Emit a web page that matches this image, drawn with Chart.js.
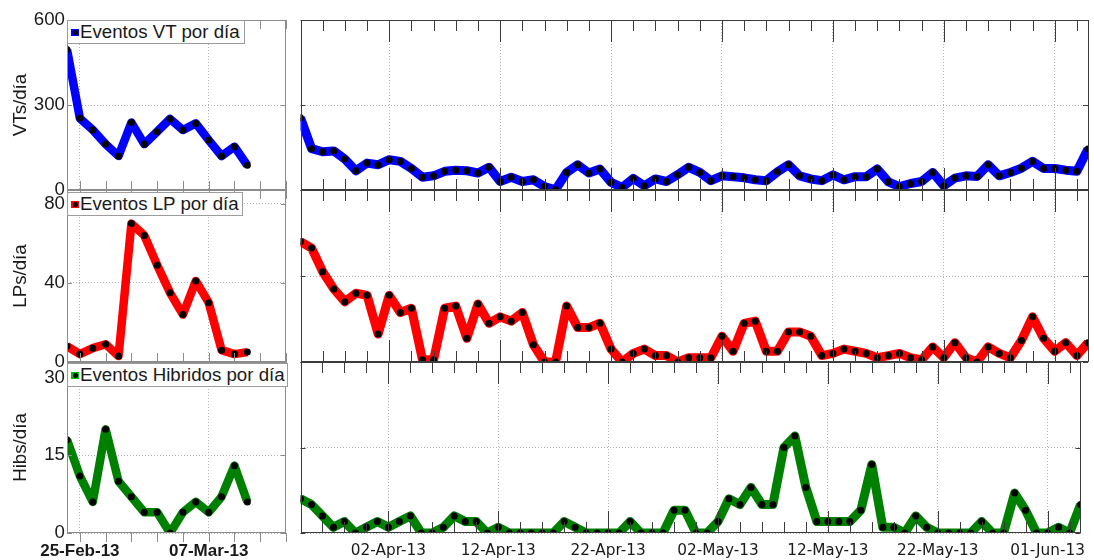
<!DOCTYPE html>
<html>
<head>
<meta charset="utf-8">
<script src="https://cdn.jsdelivr.net/npm/chart.js@4.4.1/dist/chart.umd.min.js"></script>
<style>
  body { margin: 0; background: #fff; }
  #page { position: relative; width: 1094px; height: 560px; overflow: hidden; font-family: "Liberation Sans", Arial, sans-serif; }
  .panel { position: absolute; }
  .legend { position: absolute; box-sizing: border-box; background: #fff; border: 1px solid #9c9c9c;
            display: flex; align-items: center; padding-left: 12px; font-size: 18.7px; line-height: 1;
            color: #1a1a1a; white-space: nowrap; overflow: hidden; }
  .sym { position: absolute; left: 3px; top: 50%; margin-top: -3.5px; width: 8px; height: 7px; }
  .sym::after { content: ''; position: absolute; left: 2px; top: 1px; width: 5px; height: 5px; border-radius: 50%; background: #000; }
</style>
</head>
<body>
<div id="page">
  <div id="charts"></div>
  <div class="legend" style="left:67px;top:20px;width:178px;height:24px"><span class="sym" style="background:#0000ff"></span>Eventos VT por día</div>
  <div class="legend" style="left:67px;top:192px;width:176px;height:24px"><span class="sym" style="background:#ff0000"></span>Eventos LP por día</div>
  <div class="legend" style="left:67px;top:363px;width:221px;height:24px"><span class="sym" style="background:#00c000"></span>Eventos Hibridos por día</div>
</div>
<script>
// ---- data (one value per day) ----
const leftStart = '24-Feb-13';
const rightStart = '25-Mar-13';
const leftRange = ['24-Feb-13', '13-Mar-13'];
const rightRange = ['25-Mar-13', '04-Jun-13'];

const leftTickLabels = ['25-Feb-13', '07-Mar-13'];
const rightTickLabels = ['02-Apr-13', '12-Apr-13', '22-Apr-13', '02-May-13', '12-May-13', '22-May-13', '01-Jun-13'];

const vtTicks = [0, 300, 600];
const lpTicks = [0, 40, 80];
const hibTicks = [0, 15, 30];

const leftVT  = [496, 253, 212, 162, 120, 238, 162, 206, 251, 212, 235, 176, 120, 153, 87];
const leftLP  = [8, 4, 7, 9, 3, 70, 64, 49, 35, 24, 41, 30, 6, 4, 5];
const leftHib = [18, 11, 6, 20, 10, 7, 4, 4, 0, 4, 6, 4, 7, 13, 6];

const rightVT = [
  255, 146, 135, 138, 109, 68, 95, 89, 107, 101,
  76, 45, 50, 66, 70, 68, 60, 80, 30, 45,
  30, 36, 12, 1, 62, 89, 60, 74, 27, 9,
  41, 15, 39, 30, 54, 80, 62, 33, 50, 47,
  43, 36, 33, 64, 89, 50, 39, 33, 53, 36,
  47, 47, 74, 29, 12, 23, 30, 62, 15, 42,
  50, 48, 89, 50, 62, 77, 101, 76, 76, 70,
  66, 145
];
const rightLP = [
  56, 53, 42, 34, 28, 32, 31, 13, 31, 23,
  25, 1, 1, 25, 26, 11, 27, 18, 21, 19,
  23, 8, 0, 0, 26, 16, 16, 18, 6, 0,
  4, 6, 3, 3, 0, 2, 2, 2, 12, 5,
  18, 19, 5, 5, 14, 14, 12, 3, 4, 6,
  5, 4, 2, 3, 4, 2, 1, 7, 2, 9,
  2, 0, 7, 4, 2, 10, 21, 11, 5, 9,
  3, 9
];
const rightHib = [
  6, 5, 3, 1, 2, 0, 1, 2, 1, 2,
  3, 0, 0, 1, 3, 2, 2, 0, 1, 0,
  0, 0, 0, 0, 2, 1, 0, 0, 0, 0,
  2, 0, 0, 0, 4, 4, 0, 0, 2, 6,
  5, 8, 5, 5, 15, 17, 8, 2, 2, 2,
  2, 4, 12, 1, 1, 0, 3, 1, 0, 0,
  0, 0, 2, 0, 0, 7, 4, 0, 0, 1,
  0, 5
];

// ---- date helpers (day of year 2013) ----
const MON = ['Jan', 'Feb', 'Mar', 'Apr', 'May', 'Jun'];
const MLEN = [31, 28, 31, 30, 31, 30];
function dayOf(label) {
  const [dd, mm] = label.split('-');
  let n = +dd;
  for (let i = 0; i < MON.indexOf(mm); i++) n += MLEN[i];
  return n;
}
function labelOf(n) {
  let m = 0;
  while (n > MLEN[m]) { n -= MLEN[m]; m++; }
  return String(n).padStart(2, '0') + '-' + MON[m] + '-13';
}
const daysFrom = (start, vals) => vals.map((_, i) => dayOf(start) + i);

Chart.defaults.font.family = '"Liberation Sans", Arial, sans-serif';
Chart.defaults.color = '#1a1a1a';

// box + inward tick marks, like the original figure
const framePlugin = {
  id: 'frame',
  afterDatasetsDraw(chart, args, o) {
    const { ctx, chartArea: a, scales: { x, y } } = chart;
    ctx.save();
    ctx.strokeStyle = o.color;
    ctx.lineWidth = 1;
    ctx.beginPath();
    for (let d = Math.ceil(x.min / 2) * 2; d <= x.max; d += 2) {
      const px = Math.round(x.getPixelForValue(d)) + 0.5;
      const len = o.majors.includes(d) ? o.majorLen : o.minorLen;
      ctx.moveTo(px, a.top); ctx.lineTo(px, a.top + len);
      ctx.moveTo(px, a.bottom); ctx.lineTo(px, o.outBottom ? a.bottom + len : a.bottom - len);
    }
    o.yTicks.forEach(v => {
      const py = Math.round(y.getPixelForValue(v)) + 0.5;
      ctx.moveTo(a.left, py); ctx.lineTo(a.left + 5, py);
      ctx.moveTo(a.right, py); ctx.lineTo(a.right - 5, py);
    });
    ctx.stroke();
    ctx.strokeRect(Math.round(a.left) + 0.5, Math.round(a.top) + 0.5, Math.round(a.width) - 1, Math.round(a.height) - 1);
    ctx.restore();
  }
};

function panel(p) {
  const wrap = document.createElement('div');
  wrap.className = 'panel';
  Object.assign(wrap.style, { left: p.left + 'px', top: p.top + 'px', width: p.w + 'px', height: p.h + 'px' });
  const cv = document.createElement('canvas');
  cv.width = p.w; cv.height = p.h;
  cv.style.width = p.w + 'px'; cv.style.height = p.h + 'px';
  wrap.appendChild(cv);
  document.getElementById('charts').appendChild(wrap);

  const majors = p.tickLabels.map(dayOf);
  const days = daysFrom(p.start, p.values);

  return new Chart(cv, {
    type: 'line',
    data: {
      datasets: [{
        data: days.map((d, i) => ({ x: d, y: p.values[i] })),
        borderColor: p.color,
        borderWidth: p.lw,
        borderJoinStyle: 'round',
        pointRadius: 3.5,
        pointHoverRadius: 3.5,
        pointBorderWidth: 0,
        pointBackgroundColor: '#000',
        tension: 0,
        clip: 0
      }]
    },
    options: {
      responsive: false,
      animation: false,
      events: [],
      devicePixelRatio: 1,
      layout: { padding: p.pad },
      plugins: {
        legend: { display: false },
        tooltip: { enabled: false },
        frame: { color: p.frameColor, majors, majorLen: p.majorLen, minorLen: p.minorLen, outBottom: p.outBottom, yTicks: p.yTicks }
      },
      scales: {
        x: {
          type: 'linear',
          min: dayOf(p.range[0]),
          max: dayOf(p.range[1]),
          afterBuildTicks: s => { s.ticks = majors.map(v => ({ value: v })); },
          afterFit: s => { s.height = p.xH; },
          grid: { color: '#b3b3b3', lineWidth: 1, drawTicks: false },
          border: { display: false, dash: [1, 2] },
          ticks: {
            display: p.xLabels,
            autoSkip: false,
            maxRotation: 0,
            padding: p.xPad,
            font: p.xFont,
            color: '#1a1a1a',
            callback: v => labelOf(v)
          }
        },
        y: {
          min: 0,
          max: p.yMax,
          afterBuildTicks: s => { s.ticks = p.yTicks.map(v => ({ value: v })); },
          afterFit: s => { s.width = p.yW; },
          grid: { color: '#b3b3b3', lineWidth: 1, drawTicks: false },
          border: { display: false, dash: [1, 2] },
          ticks: { display: !!p.title, padding: 2, font: { size: 18.7 }, color: '#1a1a1a' },
          title: { display: !!p.title, text: p.title, font: { size: 18.7 }, color: '#1a1a1a', padding: { top: 9.5, bottom: 0 } }
        }
      }
    },
    plugins: [framePlugin]
  });
}

const leftBase = { left: 0, w: 300, yW: 67, start: leftStart, range: leftRange, tickLabels: leftTickLabels,
  frameColor: '#8c8c8c', majorLen: 9, minorLen: 9, lw: 8.5,
  xFont: { size: 17, weight: 'bold' }, xPad: 8.5 };
const rightBase = { left: 297, w: 797, yW: 0, start: rightStart, range: rightRange, tickLabels: rightTickLabels,
  frameColor: '#3c3c3c', majorLen: 22, minorLen: 11, lw: 9,
  xFont: { family: '"DejaVu Sans", sans-serif', size: 15.3 }, xPad: 8.8 };

const rows = [
  { top: 0,   h: 215, pad: { left: 0, top: 20, bottom: 25 }, xH: 0,  xLabels: false, color: '#0000ff', yTicks: vtTicks,  title: 'VTs/día' },
  { top: 170, h: 220, pad: { left: 0, top: 20, bottom: 28 }, xH: 0,  xLabels: false, color: '#ff0000', yTicks: lpTicks,  title: 'LPs/día' },
  { top: 342, h: 218, pad: { left: 0, top: 20, bottom: 0 },  xH: 27, xLabels: true,  color: '#008000', yTicks: hibTicks, title: 'Hibs/día' }
];
const leftVals = [leftVT, leftLP, leftHib];
const rightVals = [rightVT, rightLP, rightHib];
const leftMax = [600, 87, 33];
const rightMax = [600, 80, 30];

rows.forEach((r, i) => {
  panel({ ...leftBase, ...r, pad: { ...r.pad, right: 14 }, values: leftVals[i], yMax: leftMax[i], outBottom: i === 2 });
  panel({ ...rightBase, ...r, pad: { ...r.pad, right: 6 }, values: rightVals[i], yMax: rightMax[i], title: '', outBottom: false });
});
</script>
</body>
</html>
